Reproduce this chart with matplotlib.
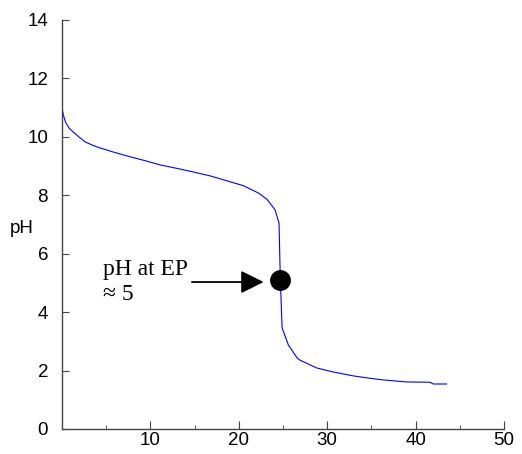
import matplotlib
matplotlib.use('Agg')
import matplotlib.pyplot as plt

# titration curve
vol = [0.0, 0.15, 0.4, 0.8, 1.25, 1.9, 2.6, 3.4, 4.3, 5.8, 7.3, 9.2, 11.1, 13.0,
       14.8, 16.8, 18.7, 20.5, 22.2, 23.2, 24.1, 24.55, 24.7, 24.9, 25.6, 26.6,
       26.9, 28.8, 30.7, 32.9, 34.5, 36.3, 39.0, 41.6, 42.0, 43.5]
ph = [11.0, 10.75, 10.5, 10.3, 10.17, 10.0, 9.83, 9.72, 9.62, 9.48, 9.35, 9.2,
      9.04, 8.92, 8.80, 8.66, 8.49, 8.33, 8.08, 7.86, 7.5, 7.05, 5.1, 3.46, 2.88,
      2.43, 2.36, 2.09, 1.95, 1.82, 1.75, 1.68, 1.61, 1.60, 1.54, 1.54]
ep_vol = 24.66
ep_ph = 5.1

plt.rcParams['font.family'] = ['Liberation Sans', 'DejaVu Sans']

fig = plt.figure(figsize=(5.22, 4.54), dpi=100)
ax = fig.add_axes([0.1188, 0.0551, 0.8467, 0.9009])

ax.plot(vol, ph, color='#0000ff', lw=0.8)
ax.plot([ep_vol], [ep_ph], 'o', color='black', ms=14)

ax.annotate('', xy=(22.8, 5.03), xytext=(14.7, 5.03),
            arrowprops=dict(arrowstyle='-|>,head_length=1.4,head_width=0.7',
                            color='black', lw=1.3, shrinkA=0, shrinkB=0))
serif = ['Liberation Serif', 'DejaVu Serif']
ax.text(4.6, 5.27, 'pH at EP', family=serif, fontsize=17, va='baseline')
ax.text(4.6, 4.4, '≈ 5', family=serif, fontsize=17, va='baseline')

ax.set_xlim(0, 50)
ax.set_ylim(0, 14)
ax.set_xticks([10, 20, 30, 40, 50])
ax.set_xticks([5, 15, 25, 35, 45], minor=True)
ax.set_yticks(range(0, 15, 2))

for s in ['top', 'right']:
    ax.spines[s].set_visible(False)
for s in ['left', 'bottom']:
    ax.spines[s].set_color('#444444')
    ax.spines[s].set_linewidth(1.0)

ax.tick_params(axis='both', which='both', direction='in', color='#444444',
               labelsize=13.5)
ax.tick_params(axis='y', which='major', length=5, pad=10)
ax.tick_params(axis='x', which='major', length=6, pad=2)
ax.tick_params(axis='x', which='minor', length=3)

ax.set_ylabel('pH', rotation=0, fontsize=13.5, va='center', ha='center')
ax.yaxis.set_label_coords(-0.092, 0.49)

fig.savefig('out.png')
